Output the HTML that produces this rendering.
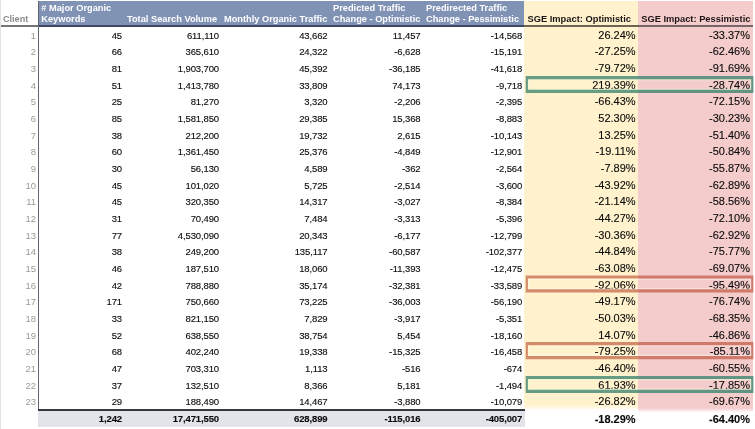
<!DOCTYPE html>
<html><head><meta charset="utf-8"><title>SGE Impact</title>
<style>
html,body{margin:0;padding:0;background:#fff;}
body{width:755px;height:429px;overflow:hidden;position:relative;font-family:"Liberation Sans",sans-serif;color:#0a0a0a;}
.a{position:absolute;white-space:nowrap;}
.n{-webkit-text-stroke:0.12px #0a0a0a;position:absolute;white-space:nowrap;text-align:right;letter-spacing:-0.12px;font-size:9.5px;line-height:12px;height:12px;color:#0a0a0a;}
.p{-webkit-text-stroke:0.12px #0a0a0a;position:absolute;white-space:nowrap;text-align:right;font-size:11px;line-height:14px;height:14px;color:#0a0a0a;}
.i{position:absolute;white-space:nowrap;text-align:right;font-size:9.5px;line-height:12px;height:12px;color:#999;}
.h{position:absolute;white-space:nowrap;font-weight:bold;font-size:9.25px;line-height:11px;color:#fff;}
.hd{position:absolute;white-space:nowrap;font-weight:bold;font-size:9.32px;line-height:11px;color:#1c1416;}
.b{font-weight:bold;}
#w{position:absolute;left:0;top:0;width:755px;height:429px;filter:blur(0.45px);}
</style></head><body><div id="w">

<div class="a" style="left:524px;top:1px;width:114.5px;height:412px;background:linear-gradient(to bottom,#fff2cc 0,#fff2cc 404px,#fff 409.5px);"></div>
<div class="a" style="left:638.2px;top:1px;width:114.6px;height:412px;background:linear-gradient(to bottom,#f4cccb 0,#f4cccb 407px,#fff 411.5px);"></div>
<div class="a" style="left:38px;top:1px;width:486px;height:24.5px;background:#8193b5;"></div>
<div class="a" style="left:0;top:25px;width:38px;height:1.8px;background:#747474;"></div>
<div class="a" style="left:38px;top:24.8px;width:486px;height:2px;background:#3f4860;"></div>
<div class="a" style="left:524px;top:25px;width:114.5px;height:1.7px;background:#6b6552;"></div>
<div class="a" style="left:638.5px;top:25px;width:114.3px;height:1.7px;background:#78656a;"></div>
<div class="a" style="left:37.8px;top:1px;width:1.5px;height:410px;background:#62666f;"></div>
<div class="a" style="left:0;top:0;width:1.3px;height:429px;background:#e2e2e2;"></div>
<div class="a" style="left:38px;top:410px;width:486.8px;height:16.9px;background:#e2e4ea;"></div>
<div class="a" style="left:38px;top:409px;width:486.8px;height:2px;background:#33363f;"></div>
<div class="a" style="left:3px;top:14.00px;font-size:9.1px;font-weight:bold;line-height:11px;color:#8a8a8a;">Client</div>
<div class="h" style="left:41.3px;top:3.00px;"># Major Organic<br>Keywords</div>
<div class="h" style="left:127px;top:14.00px;">Total Search Volume</div>
<div class="h" style="left:224px;top:14.00px;">Monthly Organic Traffic</div>
<div class="h" style="left:333px;top:3.00px;">Predicted Traffic<br>Change - Optimistic</div>
<div class="h" style="left:426px;top:3.00px;">Predirected Traffic<br>Change - Pessimistic</div>
<div class="hd" style="left:527.5px;top:14.00px;">SGE Impact: Optimistic</div>
<div class="hd" style="left:641.2px;top:14.00px;">SGE Impact: Pessimistic</div>
<div class="i" style="right:718.90px;top:30.00px;">1</div>
<div class="n" style="right:633.00px;top:30.00px;">45</div>
<div class="n" style="right:536.00px;top:30.00px;">611,110</div>
<div class="n" style="right:427.50px;top:30.00px;">43,662</div>
<div class="n" style="right:334.50px;top:30.00px;">11,457</div>
<div class="n" style="right:232.80px;top:30.00px;">-14,568</div>
<div class="p" style="right:119.40px;top:28.00px;">26.24%</div>
<div class="p" style="right:5.00px;top:28.00px;">-33.37%</div>
<div class="i" style="right:718.90px;top:46.00px;">2</div>
<div class="n" style="right:633.00px;top:46.00px;">66</div>
<div class="n" style="right:536.00px;top:46.00px;">365,610</div>
<div class="n" style="right:427.50px;top:46.00px;">24,322</div>
<div class="n" style="right:334.50px;top:46.00px;">-6,628</div>
<div class="n" style="right:232.80px;top:46.00px;">-15,191</div>
<div class="p" style="right:119.40px;top:44.00px;">-27.25%</div>
<div class="p" style="right:5.00px;top:44.00px;">-62.46%</div>
<div class="i" style="right:718.90px;top:63.00px;">3</div>
<div class="n" style="right:633.00px;top:63.00px;">81</div>
<div class="n" style="right:536.00px;top:63.00px;">1,903,700</div>
<div class="n" style="right:427.50px;top:63.00px;">45,392</div>
<div class="n" style="right:334.50px;top:63.00px;">-36,185</div>
<div class="n" style="right:232.80px;top:63.00px;">-41,618</div>
<div class="p" style="right:119.40px;top:61.00px;">-79.72%</div>
<div class="p" style="right:5.00px;top:61.00px;">-91.69%</div>
<div class="i" style="right:718.90px;top:80.00px;">4</div>
<div class="n" style="right:633.00px;top:80.00px;">51</div>
<div class="n" style="right:536.00px;top:80.00px;">1,413,780</div>
<div class="n" style="right:427.50px;top:80.00px;">33,809</div>
<div class="n" style="right:334.50px;top:80.00px;">74,173</div>
<div class="n" style="right:232.80px;top:80.00px;">-9,718</div>
<div class="p" style="right:119.40px;top:78.00px;">219.39%</div>
<div class="p" style="right:5.00px;top:78.00px;">-28.74%</div>
<div class="i" style="right:718.90px;top:96.00px;">5</div>
<div class="n" style="right:633.00px;top:96.00px;">25</div>
<div class="n" style="right:536.00px;top:96.00px;">81,270</div>
<div class="n" style="right:427.50px;top:96.00px;">3,320</div>
<div class="n" style="right:334.50px;top:96.00px;">-2,206</div>
<div class="n" style="right:232.80px;top:96.00px;">-2,395</div>
<div class="p" style="right:119.40px;top:94.00px;">-66.43%</div>
<div class="p" style="right:5.00px;top:94.00px;">-72.15%</div>
<div class="i" style="right:718.90px;top:113.00px;">6</div>
<div class="n" style="right:633.00px;top:113.00px;">85</div>
<div class="n" style="right:536.00px;top:113.00px;">1,581,850</div>
<div class="n" style="right:427.50px;top:113.00px;">29,385</div>
<div class="n" style="right:334.50px;top:113.00px;">15,368</div>
<div class="n" style="right:232.80px;top:113.00px;">-8,883</div>
<div class="p" style="right:119.40px;top:111.00px;">52.30%</div>
<div class="p" style="right:5.00px;top:111.00px;">-30.23%</div>
<div class="i" style="right:718.90px;top:130.00px;">7</div>
<div class="n" style="right:633.00px;top:130.00px;">38</div>
<div class="n" style="right:536.00px;top:130.00px;">212,200</div>
<div class="n" style="right:427.50px;top:130.00px;">19,732</div>
<div class="n" style="right:334.50px;top:130.00px;">2,615</div>
<div class="n" style="right:232.80px;top:130.00px;">-10,143</div>
<div class="p" style="right:119.40px;top:128.00px;">13.25%</div>
<div class="p" style="right:5.00px;top:128.00px;">-51.40%</div>
<div class="i" style="right:718.90px;top:146.00px;">8</div>
<div class="n" style="right:633.00px;top:146.00px;">60</div>
<div class="n" style="right:536.00px;top:146.00px;">1,361,450</div>
<div class="n" style="right:427.50px;top:146.00px;">25,376</div>
<div class="n" style="right:334.50px;top:146.00px;">-4,849</div>
<div class="n" style="right:232.80px;top:146.00px;">-12,901</div>
<div class="p" style="right:119.40px;top:144.00px;">-19.11%</div>
<div class="p" style="right:5.00px;top:144.00px;">-50.84%</div>
<div class="i" style="right:718.90px;top:163.00px;">9</div>
<div class="n" style="right:633.00px;top:163.00px;">30</div>
<div class="n" style="right:536.00px;top:163.00px;">56,130</div>
<div class="n" style="right:427.50px;top:163.00px;">4,589</div>
<div class="n" style="right:334.50px;top:163.00px;">-362</div>
<div class="n" style="right:232.80px;top:163.00px;">-2,564</div>
<div class="p" style="right:119.40px;top:161.00px;">-7.89%</div>
<div class="p" style="right:5.00px;top:161.00px;">-55.87%</div>
<div class="i" style="right:718.90px;top:180.00px;">10</div>
<div class="n" style="right:633.00px;top:180.00px;">45</div>
<div class="n" style="right:536.00px;top:180.00px;">101,020</div>
<div class="n" style="right:427.50px;top:180.00px;">5,725</div>
<div class="n" style="right:334.50px;top:180.00px;">-2,514</div>
<div class="n" style="right:232.80px;top:180.00px;">-3,600</div>
<div class="p" style="right:119.40px;top:178.00px;">-43.92%</div>
<div class="p" style="right:5.00px;top:178.00px;">-62.89%</div>
<div class="i" style="right:718.90px;top:196.00px;">11</div>
<div class="n" style="right:633.00px;top:196.00px;">45</div>
<div class="n" style="right:536.00px;top:196.00px;">320,350</div>
<div class="n" style="right:427.50px;top:196.00px;">14,317</div>
<div class="n" style="right:334.50px;top:196.00px;">-3,027</div>
<div class="n" style="right:232.80px;top:196.00px;">-8,384</div>
<div class="p" style="right:119.40px;top:194.00px;">-21.14%</div>
<div class="p" style="right:5.00px;top:194.00px;">-58.56%</div>
<div class="i" style="right:718.90px;top:213.00px;">12</div>
<div class="n" style="right:633.00px;top:213.00px;">31</div>
<div class="n" style="right:536.00px;top:213.00px;">70,490</div>
<div class="n" style="right:427.50px;top:213.00px;">7,484</div>
<div class="n" style="right:334.50px;top:213.00px;">-3,313</div>
<div class="n" style="right:232.80px;top:213.00px;">-5,396</div>
<div class="p" style="right:119.40px;top:211.00px;">-44.27%</div>
<div class="p" style="right:5.00px;top:211.00px;">-72.10%</div>
<div class="i" style="right:718.90px;top:230.00px;">13</div>
<div class="n" style="right:633.00px;top:230.00px;">77</div>
<div class="n" style="right:536.00px;top:230.00px;">4,530,090</div>
<div class="n" style="right:427.50px;top:230.00px;">20,343</div>
<div class="n" style="right:334.50px;top:230.00px;">-6,177</div>
<div class="n" style="right:232.80px;top:230.00px;">-12,799</div>
<div class="p" style="right:119.40px;top:228.00px;">-30.36%</div>
<div class="p" style="right:5.00px;top:228.00px;">-62.92%</div>
<div class="i" style="right:718.90px;top:246.00px;">14</div>
<div class="n" style="right:633.00px;top:246.00px;">38</div>
<div class="n" style="right:536.00px;top:246.00px;">249,200</div>
<div class="n" style="right:427.50px;top:246.00px;">135,117</div>
<div class="n" style="right:334.50px;top:246.00px;">-60,587</div>
<div class="n" style="right:232.80px;top:246.00px;">-102,377</div>
<div class="p" style="right:119.40px;top:244.00px;">-44.84%</div>
<div class="p" style="right:5.00px;top:244.00px;">-75.77%</div>
<div class="i" style="right:718.90px;top:263.00px;">15</div>
<div class="n" style="right:633.00px;top:263.00px;">46</div>
<div class="n" style="right:536.00px;top:263.00px;">187,510</div>
<div class="n" style="right:427.50px;top:263.00px;">18,060</div>
<div class="n" style="right:334.50px;top:263.00px;">-11,393</div>
<div class="n" style="right:232.80px;top:263.00px;">-12,475</div>
<div class="p" style="right:119.40px;top:261.00px;">-63.08%</div>
<div class="p" style="right:5.00px;top:261.00px;">-69.07%</div>
<div class="i" style="right:718.90px;top:280.00px;">16</div>
<div class="n" style="right:633.00px;top:280.00px;">42</div>
<div class="n" style="right:536.00px;top:280.00px;">788,880</div>
<div class="n" style="right:427.50px;top:280.00px;">35,174</div>
<div class="n" style="right:334.50px;top:280.00px;">-32,381</div>
<div class="n" style="right:232.80px;top:280.00px;">-33,589</div>
<div class="p" style="right:119.40px;top:278.00px;">-92.06%</div>
<div class="p" style="right:5.00px;top:278.00px;">-95.49%</div>
<div class="i" style="right:718.90px;top:296.00px;">17</div>
<div class="n" style="right:633.00px;top:296.00px;">171</div>
<div class="n" style="right:536.00px;top:296.00px;">750,660</div>
<div class="n" style="right:427.50px;top:296.00px;">73,225</div>
<div class="n" style="right:334.50px;top:296.00px;">-36,003</div>
<div class="n" style="right:232.80px;top:296.00px;">-56,190</div>
<div class="p" style="right:119.40px;top:294.00px;">-49.17%</div>
<div class="p" style="right:5.00px;top:294.00px;">-76.74%</div>
<div class="i" style="right:718.90px;top:313.00px;">18</div>
<div class="n" style="right:633.00px;top:313.00px;">33</div>
<div class="n" style="right:536.00px;top:313.00px;">821,150</div>
<div class="n" style="right:427.50px;top:313.00px;">7,829</div>
<div class="n" style="right:334.50px;top:313.00px;">-3,917</div>
<div class="n" style="right:232.80px;top:313.00px;">-5,351</div>
<div class="p" style="right:119.40px;top:311.00px;">-50.03%</div>
<div class="p" style="right:5.00px;top:311.00px;">-68.35%</div>
<div class="i" style="right:718.90px;top:330.00px;">19</div>
<div class="n" style="right:633.00px;top:330.00px;">52</div>
<div class="n" style="right:536.00px;top:330.00px;">638,550</div>
<div class="n" style="right:427.50px;top:330.00px;">38,754</div>
<div class="n" style="right:334.50px;top:330.00px;">5,454</div>
<div class="n" style="right:232.80px;top:330.00px;">-18,160</div>
<div class="p" style="right:119.40px;top:328.00px;">14.07%</div>
<div class="p" style="right:5.00px;top:328.00px;">-46.86%</div>
<div class="i" style="right:718.90px;top:346.00px;">20</div>
<div class="n" style="right:633.00px;top:346.00px;">68</div>
<div class="n" style="right:536.00px;top:346.00px;">402,240</div>
<div class="n" style="right:427.50px;top:346.00px;">19,338</div>
<div class="n" style="right:334.50px;top:346.00px;">-15,325</div>
<div class="n" style="right:232.80px;top:346.00px;">-16,458</div>
<div class="p" style="right:119.40px;top:344.00px;">-79.25%</div>
<div class="p" style="right:5.00px;top:344.00px;">-85.11%</div>
<div class="i" style="right:718.90px;top:363.00px;">21</div>
<div class="n" style="right:633.00px;top:363.00px;">47</div>
<div class="n" style="right:536.00px;top:363.00px;">703,310</div>
<div class="n" style="right:427.50px;top:363.00px;">1,113</div>
<div class="n" style="right:334.50px;top:363.00px;">-516</div>
<div class="n" style="right:232.80px;top:363.00px;">-674</div>
<div class="p" style="right:119.40px;top:361.00px;">-46.40%</div>
<div class="p" style="right:5.00px;top:361.00px;">-60.55%</div>
<div class="i" style="right:718.90px;top:380.00px;">22</div>
<div class="n" style="right:633.00px;top:380.00px;">37</div>
<div class="n" style="right:536.00px;top:380.00px;">132,510</div>
<div class="n" style="right:427.50px;top:380.00px;">8,366</div>
<div class="n" style="right:334.50px;top:380.00px;">5,181</div>
<div class="n" style="right:232.80px;top:380.00px;">-1,494</div>
<div class="p" style="right:119.40px;top:378.00px;">61.93%</div>
<div class="p" style="right:5.00px;top:378.00px;">-17.85%</div>
<div class="i" style="right:718.90px;top:396.00px;">23</div>
<div class="n" style="right:633.00px;top:396.00px;">29</div>
<div class="n" style="right:536.00px;top:396.00px;">188,490</div>
<div class="n" style="right:427.50px;top:396.00px;">14,467</div>
<div class="n" style="right:334.50px;top:396.00px;">-3,880</div>
<div class="n" style="right:232.80px;top:396.00px;">-10,079</div>
<div class="p" style="right:119.40px;top:394.00px;">-26.82%</div>
<div class="p" style="right:5.00px;top:394.00px;">-69.67%</div>
<div class="n b" style="right:633.00px;top:413.00px;">1,242</div>
<div class="n b" style="right:536.00px;top:413.00px;">17,471,550</div>
<div class="n b" style="right:427.50px;top:413.00px;">628,899</div>
<div class="n b" style="right:334.50px;top:413.00px;">-115,016</div>
<div class="n b" style="right:232.80px;top:413.00px;">-405,007</div>
<div class="p b" style="right:119.40px;top:412.00px;">-18.29%</div>
<div class="p b" style="right:5.00px;top:412.00px;">-64.40%</div>
<svg class="a" style="left:0;top:0;" width="755" height="429" viewBox="0 0 755 429"><defs><filter id="bl" x="-5%" y="-50%" width="110%" height="200%"><feGaussianBlur stdDeviation="0.55"/></filter></defs><g fill="none" filter="url(#bl)"><rect x="528.50" y="79.74" width="222.10" height="9.50" fill="none" stroke="rgba(228,246,218,0.6)" stroke-width="1.2"/><path d="M525.70 75.94H753.40V93.04H525.70ZM527.90 79.14H751.20V89.84H527.90Z" fill="rgba(55,130,108,0.76)" fill-rule="evenodd"/><rect x="528.50" y="379.71" width="222.10" height="9.50" fill="none" stroke="rgba(228,246,218,0.6)" stroke-width="1.2"/><path d="M525.70 375.91H753.40V393.01H525.70ZM527.90 379.11H751.20V389.81H527.90Z" fill="rgba(55,130,108,0.76)" fill-rule="evenodd"/><rect x="528.50" y="279.23" width="222.10" height="9.50" fill="none" stroke="rgba(255,252,242,0.45)" stroke-width="1.2"/><path d="M525.70 275.43H753.40V292.53H525.70ZM527.90 278.62H751.20V289.33H527.90Z" fill="rgba(178,58,34,0.56)" fill-rule="evenodd"/><rect x="528.50" y="345.88" width="222.10" height="9.50" fill="none" stroke="rgba(255,252,242,0.45)" stroke-width="1.2"/><path d="M525.70 342.08H753.40V359.19H525.70ZM527.90 345.28H751.20V355.99H527.90Z" fill="rgba(178,58,34,0.56)" fill-rule="evenodd"/></g></svg>
</div></body></html>
